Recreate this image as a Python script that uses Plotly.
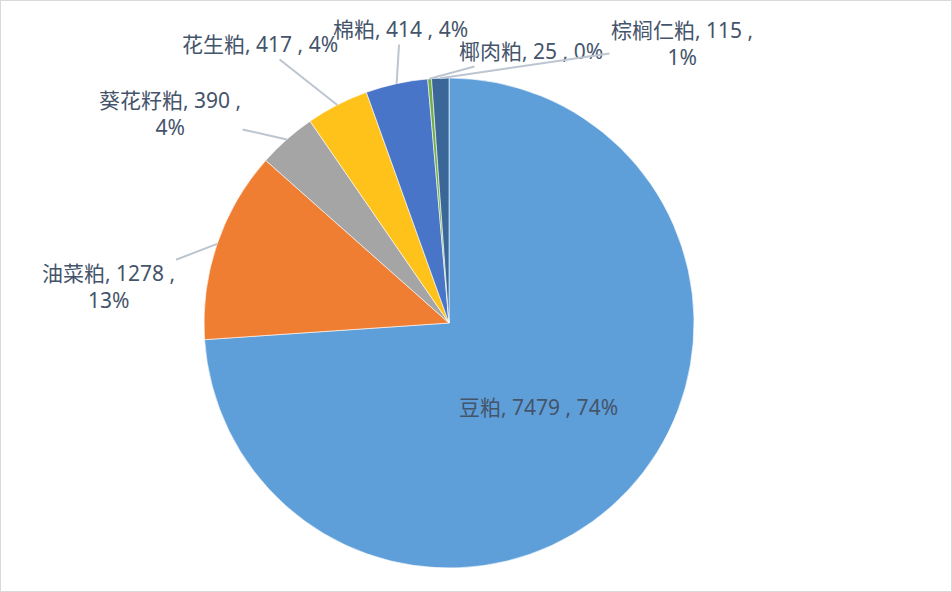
import math
import plotly.graph_objects as go

# data
labels = ["豆粕", "油菜粕", "葵花籽粕", "花生粕", "棉粕", "椰肉粕", "棕榈仁粕"]
values = [7479, 1278, 390, 417, 414, 25, 115]
colors = ["#5f9fd9", "#ef7e33", "#a5a5a5", "#ffc21a", "#4875c8", "#70ad47", "#3b6698"]

W, H = 952, 592
cx, cy, r = 449, 323, 245  # pie centre / radius in pixels

# where the outside labels sit (pixels), wrapped like Excel does
label_pos = {
    "油菜粕": (108, 286, "油菜粕, 1278 ,<br>13%"),
    "葵花籽粕": (170, 113, "葵花籽粕, 390 ,<br>4%"),
    "花生粕": (260, 44, "花生粕, 417 , 4%"),
    "棉粕": (400, 29, "棉粕, 414 , 4%"),
    "椰肉粕": (531, 51, "椰肉粕, 25 , 0%"),
    "棕榈仁粕": (682, 43, "棕榈仁粕, 115 ,<br>1%"),
}

font = dict(family="Noto Sans, Noto Sans CJK SC, sans-serif", size=21, color="#44546a")

texts = []
for lab in labels:
    texts.append("%{label}, %{value} , %{percent:.0%}" if lab == "豆粕" else "")

fig = go.Figure(go.Pie(
    labels=labels,
    values=values,
    sort=False,
    direction="clockwise",
    rotation=0,
    marker=dict(colors=colors, line=dict(color="white", width=0.6)),
    texttemplate=texts,
    textposition="inside",
    insidetextorientation="horizontal",
    insidetextfont=font,
    domain=dict(x=[(cx - r) / W, (cx + r) / W], y=[1 - (cy + r) / H, 1 - (cy - r) / H]),
    showlegend=False,
    hoverinfo="label+value+percent",
))

# leader lines from the middle of each small slice to its label
total = sum(values)
cum = 0
annotations = []
for lab, v in zip(labels, values):
    mid = (cum + v / 2) / total * 2 * math.pi
    cum += v
    if lab not in label_pos:
        continue
    tx = cx + r * math.sin(mid)
    ty = cy - r * math.cos(mid)
    lx, ly, txt = label_pos[lab]
    annotations.append(dict(
        x=tx / W, y=1 - ty / H, xref="paper", yref="paper",
        ax=lx - tx, ay=ly - ty,
        text=txt, showarrow=True, arrowhead=0, arrowwidth=2,
        arrowcolor="#bcc5d0", font=font, align="center",
    ))

fig.update_layout(
    width=W, height=H,
    margin=dict(l=0, r=0, t=0, b=0),
    paper_bgcolor="white",
    annotations=annotations,
    shapes=[dict(type="rect", xref="paper", yref="paper", x0=0, y0=0, x1=1, y1=1,
                 line=dict(color="#d9d9d9", width=2))],
)

# drop the browser's default body margin so the chart fills the window
fig.write_html("out.html", config={"displayModeBar": False},
               post_script="document.body.style.margin='0';")
